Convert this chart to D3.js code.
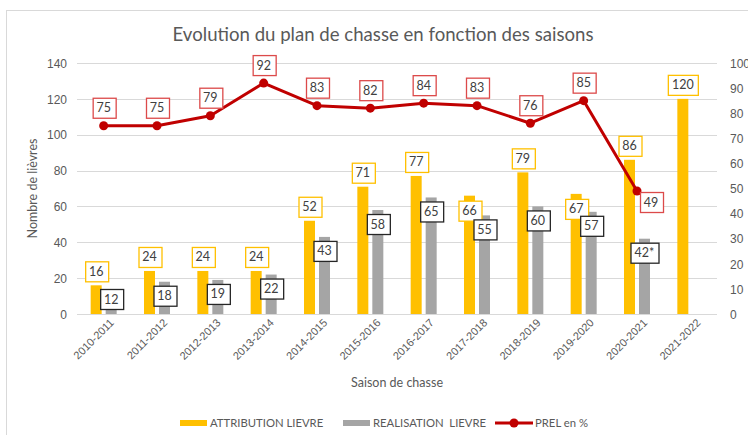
<!DOCTYPE html>
<html>
<head>
<meta charset="utf-8">
<script src="https://cdn.jsdelivr.net/npm/d3@7"></script>
<style>
  body { margin: 0; background: #fff; }
  svg { display: block; font-family: Lato, Carlito, "Liberation Sans", sans-serif; }
  .tick text { fill: #595959; font-size: 12px; }
</style>
</head>
<body>
<div id="chart"></div>
<script>
const seasons = ["2010-2011", "2011-2012", "2012-2013", "2013-2014", "2014-2015", "2015-2016",
  "2016-2017", "2017-2018", "2018-2019", "2019-2020", "2020-2021", "2021-2022"];
const attribution = [16, 24, 24, 24, 52, 71, 77, 66, 79, 67, 86, 120];
const realisation = [12, 18, 19, 22, 43, 58, 65, 55, 60, 57, 42, null];
const realisationLabels = ["12", "18", "19", "22", "43", "58", "65", "55", "60", "57", "42*", null];
const prel = [75, 75, 79, 92, 83, 82, 84, 83, 76, 85, 49, null];
const leftTicks = [0, 20, 40, 60, 80, 100, 120, 140];
const rightTicks = [0, 10, 20, 30, 40, 50, 60, 70, 80, 90, 100];

// labels that Excel had moved by hand
const attrInside = new Set(["2017-2018", "2019-2020"]);
const prelRight = new Set(["2020-2021"]);

const width = 748, height = 435;
const margin = { top: 63, right: 31, bottom: 121, left: 77 };
const colors = { attr: "#FFC000", real: "#A5A5A5", prel: "#C00000", prelBox: "#DC4A4A", text: "#595959", label: "#404040", grid: "#D9D9D9" };

const svg = d3.select("#chart").append("svg").attr("width", width).attr("height", height);

svg.append("rect")
  .attr("x", 6.5).attr("y", 10.5).attr("width", 800).attr("height", 500)
  .attr("fill", "none").attr("stroke", colors.grid);

const x0 = d3.scaleBand().domain(seasons).range([margin.left, width - margin.right]);
const x1 = d3.scaleBand().domain(["attr", "real"]).range([0, 26]).paddingInner(4 / 15);
const barOffset = x0.bandwidth() / 2 - 13;
const yL = d3.scaleLinear().domain([0, 140]).range([height - margin.bottom, margin.top]);
const yR = d3.scaleLinear().domain([0, 100]).range([height - margin.bottom, margin.top]);

// title
svg.append("text")
  .attr("x", 383).attr("y", 41)
  .attr("text-anchor", "middle")
  .attr("fill", colors.text)
  .style("font-size", "18.6px")
  .text("Evolution du plan de chasse en fonction des saisons");

// grid
svg.append("g")
  .selectAll("line")
  .data(leftTicks)
  .join("line")
  .attr("x1", margin.left).attr("x2", width - margin.right)
  .attr("y1", (d) => Math.round(yL(d)) + 0.5).attr("y2", (d) => Math.round(yL(d)) + 0.5)
  .attr("stroke", colors.grid);

// axes
const gLeft = svg.append("g")
  .attr("transform", `translate(${margin.left - 10},0)`)
  .call(d3.axisLeft(yL).tickValues(leftTicks).tickSize(0).tickPadding(0));
gLeft.select(".domain").remove();
gLeft.selectAll(".tick text").attr("dy", "0.35em");

const gRight = svg.append("g")
  .attr("transform", `translate(${width - margin.right + 13},0)`)
  .call(d3.axisRight(yR).tickValues(rightTicks).tickSize(0).tickPadding(0));
gRight.select(".domain").remove();
gRight.selectAll(".tick text").attr("dy", "0.35em");

const gBottom = svg.append("g")
  .attr("transform", `translate(0,${height - margin.bottom})`)
  .call(d3.axisBottom(x0).tickSize(0));
gBottom.select(".domain").remove();
gBottom.selectAll(".tick text")
  .style("font-size", "11px")
  .attr("text-anchor", "end")
  .attr("dx", "0.3em")
  .attr("dy", "0.2em")
  .attr("transform", "translate(5,8) rotate(-45)");

svg.append("text")
  .attr("transform", `translate(37,${(margin.top + height - margin.bottom) / 2}) rotate(-90)`)
  .attr("text-anchor", "middle")
  .attr("fill", colors.text)
  .style("font-size", "12.5px")
  .text("Nombre de lièvres");

svg.append("text")
  .attr("x", (margin.left + width - margin.right) / 2).attr("y", 387)
  .attr("text-anchor", "middle")
  .attr("fill", colors.text)
  .style("font-size", "12.5px")
  .text("Saison de chasse");

// bars
const rows = seasons.map((s, i) => ({ season: s, attr: attribution[i], real: realisation[i], realLabel: realisationLabels[i], prel: prel[i] }));

const gBars = svg.append("g");
gBars.selectAll(".bar-attr")
  .data(rows)
  .join("rect")
  .attr("class", "bar-attr")
  .attr("x", (d) => x0(d.season) + barOffset + x1("attr"))
  .attr("width", x1.bandwidth())
  .attr("y", (d) => yL(d.attr))
  .attr("height", (d) => yL(0) - yL(d.attr))
  .attr("fill", colors.attr);

gBars.selectAll(".bar-real")
  .data(rows.filter((d) => d.real != null))
  .join("rect")
  .attr("class", "bar-real")
  .attr("x", (d) => x0(d.season) + barOffset + x1("real"))
  .attr("width", x1.bandwidth())
  .attr("y", (d) => yL(d.real))
  .attr("height", (d) => yL(0) - yL(d.real))
  .attr("fill", colors.real);

// line
const prelRows = rows.filter((d) => d.prel != null);
const cx = (d) => x0(d.season) + x0.bandwidth() / 2;
const line = d3.line().x(cx).y((d) => yR(d.prel));

svg.append("path")
  .attr("d", line(prelRows))
  .attr("fill", "none")
  .attr("stroke", colors.prel)
  .attr("stroke-width", 3)
  .attr("stroke-linejoin", "round");

svg.append("g")
  .selectAll("circle")
  .data(prelRows)
  .join("circle")
  .attr("cx", cx)
  .attr("cy", (d) => yR(d.prel))
  .attr("r", 4.5)
  .attr("fill", colors.prel);

// data label boxes
function labelBox(g, data, opts) {
  const lg = g.selectAll(null).data(data).join("g")
    .attr("transform", (d) => `translate(${opts.x(d)},${opts.y(d)})`);
  const txt = lg.append("text")
    .attr("text-anchor", "middle")
    .attr("dy", "0.36em")
    .attr("fill", colors.label)
    .style("font-size", "12.5px")
    .text(opts.text);
  lg.insert("rect", "text")
    .each(function () {
      const w = this.nextSibling.getComputedTextLength() + 8;
      d3.select(this)
        .attr("x", -Math.round(w / 2) + 0.5).attr("y", -9.5)
        .attr("width", Math.round(w)).attr("height", 20);
    })
    .attr("fill", "#fff")
    .attr("stroke", opts.stroke)
    .attr("stroke-width", 1.3);
  return txt;
}

const gLabels = svg.append("g");
labelBox(gLabels, rows, {
  x: (d) => x0(d.season) + barOffset + x1("attr") + x1.bandwidth() / 2,
  y: (d) => yL(d.attr) + (attrInside.has(d.season) ? 15 : -14),
  text: (d) => d.attr,
  stroke: colors.attr,
});
labelBox(gLabels, rows.filter((d) => d.real != null), {
  x: (d) => x0(d.season) + barOffset + x1("real") + x1.bandwidth() / 2,
  y: (d) => Math.min(yL(d.real) + 14, yL(0) - 15),
  text: (d) => d.realLabel,
  stroke: "#262626",
});
labelBox(gLabels, prelRows, {
  x: (d) => cx(d) + (prelRight.has(d.season) ? 14 : 0),
  y: (d) => yR(d.prel) + (prelRight.has(d.season) ? 11 : -18),
  text: (d) => d.prel,
  stroke: colors.prelBox,
});

// legend
const legendY = 423;
const legend = svg.append("g").style("font-size", "11.3px").attr("fill", colors.text);
const legendItems = [
  { label: "ATTRIBUTION LIEVRE", type: "bar", color: colors.attr, x: 180 },
  { label: "REALISATION\u00a0 LIEVRE", type: "bar", color: colors.real, x: 343 },
  { label: "PREL en %", type: "line", color: colors.prel, x: 495 },
];
legendItems.forEach((it) => {
  const g = legend.append("g").attr("transform", `translate(${it.x},${legendY})`);
  if (it.type === "bar") {
    g.append("rect").attr("x", 0).attr("y", -3).attr("width", 27).attr("height", 6).attr("fill", it.color);
    g.append("text").attr("x", 30).attr("dy", "0.35em").attr("fill", colors.text).text(it.label);
  } else {
    g.append("line").attr("x1", 0).attr("x2", 38).attr("stroke", it.color).attr("stroke-width", 3);
    g.append("circle").attr("cx", 19).attr("r", 4.5).attr("fill", it.color);
    g.append("text").attr("x", 40).attr("dy", "0.35em").attr("fill", colors.text).text(it.label);
  }
});
</script>
</body>
</html>
